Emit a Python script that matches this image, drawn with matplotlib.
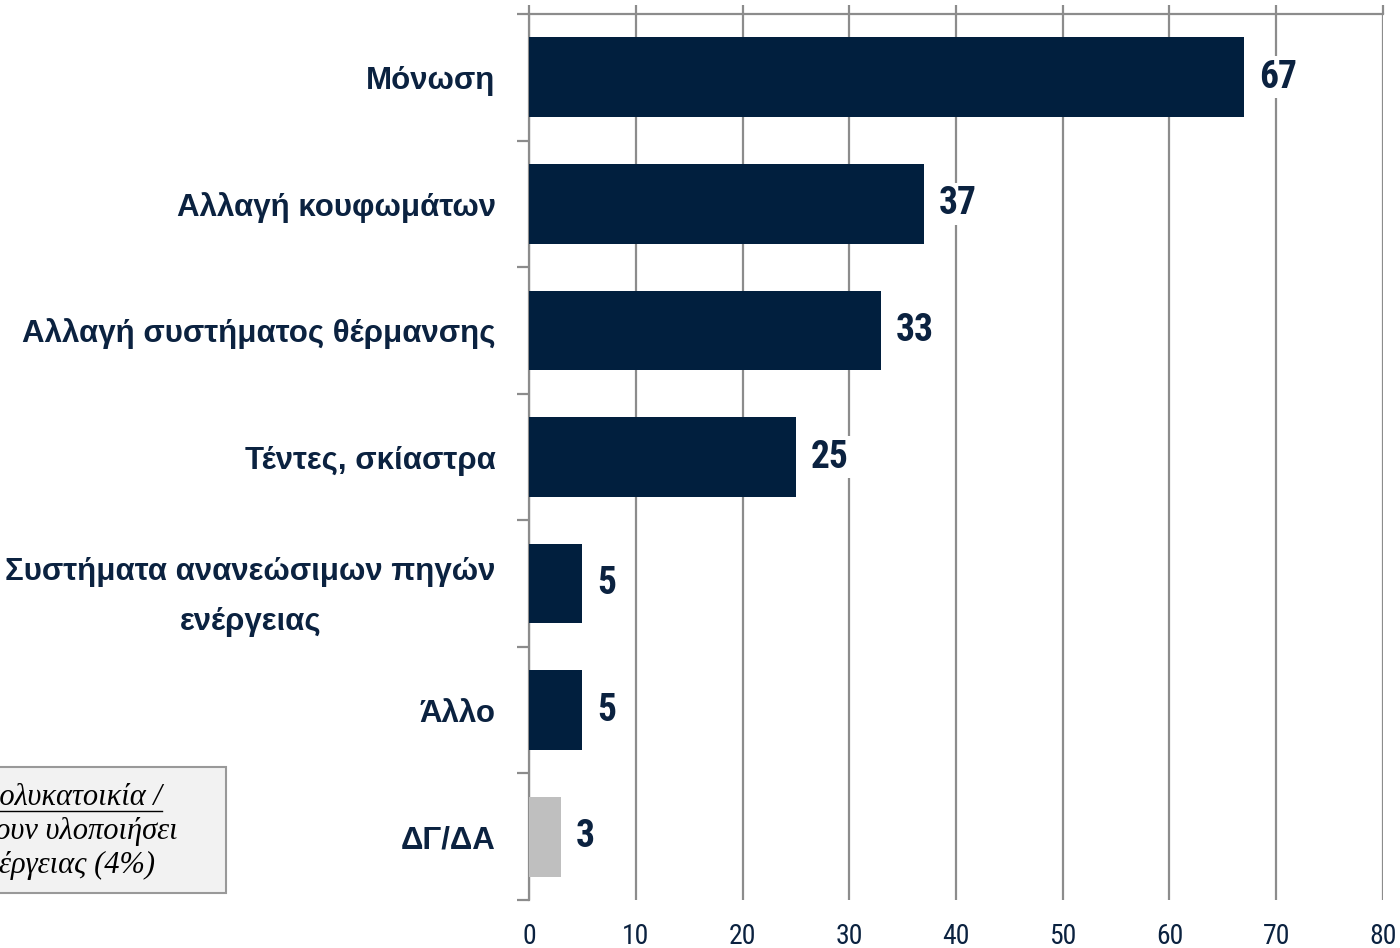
import matplotlib.pyplot as plt
from matplotlib.lines import Line2D
from matplotlib.patches import Rectangle
from matplotlib import font_manager

categories = ["Μόνωση", "Αλλαγή κουφωμάτων", "Αλλαγή συστήματος θέρμανσης",
              "Τέντες, σκίαστρα", "Συστήματα ανανεώσιμων πηγών\nενέργειας",
              "Άλλο", "ΔΓ/ΔΑ"]
values = [67, 37, 33, 25, 5, 5, 3]
bar_colors = ["#011f3e"] * 6 + ["#bfbfbf"]
xticks = [0, 10, 20, 30, 40, 50, 60, 70, 80]
note_lines = ["Βάση: Διαμένουν σε πολυκατοικία /",
              "Όσοι έχουν υλοποιήσει",
              "παρεμβάσεις εξοικονόμησης ενέργειας (4%)"]

navy = "#0b2240"
grid_c = "#8c8c8c"


def wt(w):
    if isinstance(w, str):
        return 700 if 'bold' in w.lower() else 400
    return w


# narrow faces for the numbers, prefer one that has a bold weight
cands = {}
for f in font_manager.fontManager.ttflist:
    if "Narrow" in f.name or "Condensed" in f.name:
        cands.setdefault(f.name, set()).add(wt(f.weight))
bold_narrow = [n for n, w in cands.items() if max(w) >= 700]
pref = ["Liberation Sans Narrow", "Roboto Condensed", "Open Sans Condensed"]
num_family = None
for p in pref:
    if p in bold_narrow:
        num_family = p
        break
if num_family is None and bold_narrow:
    num_family = sorted(bold_narrow)[0]
if num_family is None:
    num_family = "Liberation Sans"

plt.rcParams['font.family'] = ['Liberation Sans', 'DejaVu Sans']

fig = plt.figure(figsize=(14, 9.48), dpi=100)
ax = fig.add_axes([529 / 1400, 1 - 900 / 948, (1383 - 529) / 1400, (900 - 14) / 948])

ypos = list(range(len(categories)))
ax.barh(ypos, values, height=0.63, color=bar_colors, zorder=3)

ax.set_xlim(0, 80)
ax.set_ylim(len(categories) - 0.5, -0.5)

# x grid + top ticks
ax.set_xticks(xticks)
ax.xaxis.grid(True, color=grid_c, lw=1.6, zorder=1)
ax.tick_params(axis='x', which='major', top=True, bottom=False, direction='out',
               length=6.5, width=1.6, color=grid_c, labelsize=20,
               labelcolor=navy, pad=10)
for lab in ax.get_xticklabels():
    lab.set_family(num_family)

# y ticks: labels at centers, tick marks at boundaries
ax.set_yticks(ypos)
ax.set_yticklabels(categories, fontsize=22.5, fontweight='bold', color=navy,
                   multialignment='center', linespacing=1.85)
ax.set_yticks([i - 0.5 for i in range(len(categories) + 1)], minor=True)
ax.tick_params(axis='y', which='major', length=0, pad=24)
ax.tick_params(axis='y', which='minor', direction='out', length=8.5,
               width=1.6, color=grid_c)

for s in ['right', 'bottom']:
    ax.spines[s].set_visible(False)
for s in ['left', 'top']:
    ax.spines[s].set_color(grid_c)
    ax.spines[s].set_linewidth(1.6)

for y, v in zip(ypos, values):
    ax.text(v + 1.4, y, str(v), va='center', ha='left', fontsize=27,
            fontweight='bold', color=navy, zorder=4, family=num_family,
            bbox=dict(facecolor='white', edgecolor='none', pad=2))

# note box, cut off at the left edge
fig.patches.append(Rectangle((-0.05, 1 - 893 / 948), 0.05 + 226 / 1400, 126 / 948,
                             transform=fig.transFigure, facecolor='#f2f2f2',
                             edgecolor='#999999', lw=1.5))
ends = [162, 178, 155]
ys = [797, 832, 865]
for txt, xe, yc in zip(note_lines, ends, ys):
    fig.text(xe / 1400, 1 - yc / 948, txt, ha='right', va='center',
             fontsize=22, style='italic', family='Liberation Serif', color='black')
fig.lines.append(Line2D([0, 162 / 1400], [1 - 811 / 948] * 2, transform=fig.transFigure,
                        color='black', lw=1))

fig.savefig("out.png", dpi=100)
